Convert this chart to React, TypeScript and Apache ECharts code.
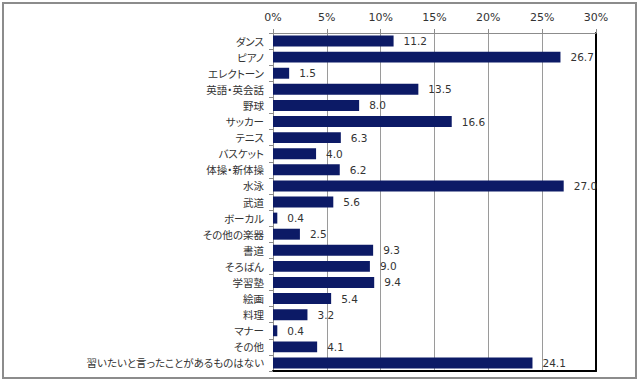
import React, { useEffect, useRef } from "react";
import * as echarts from "echarts";

const categories = [
  "ダンス", "ピアノ", "エレクトーン", "英語・英会話", "野球", "サッカー", "テニス",
  "バスケット", "体操・新体操", "水泳", "武道", "ボーカル", "その他の楽器", "書道",
  "そろばん", "学習塾", "絵画", "料理", "マナー", "その他", "習いたいと言ったことがあるものはない",
];
const values = [
  11.2, 26.7, 1.5, 13.5, 8.0, 16.6, 6.3, 4.0, 6.2, 27.0, 5.6, 0.4, 2.5, 9.3,
  9.0, 9.4, 5.4, 3.2, 0.4, 4.1, 24.1,
];
const xTicks = [0, 5, 10, 15, 20, 25, 30];

const FONT = "'Noto Sans CJK JP', 'Noto Sans', sans-serif";
const NUM_FONT = "'DejaVu Sans', Verdana, sans-serif";

export default function App() {
  const ref = useRef<HTMLDivElement>(null);
  useEffect(() => {
    document.body.style.margin = "0";
    const st = document.createElement("style");
    st.textContent = "#root svg text { font-feature-settings: 'palt' 1; }";
    document.head.appendChild(st);
    const chart = echarts.init(ref.current!, null, { renderer: "svg" });
    chart.setOption({
      animation: false,
      backgroundColor: "#ffffff",
      graphic: [
        {
          type: "rect",
          shape: { x: 3, y: 3, width: 633, height: 375 },
          style: { fill: "none", stroke: "#8c8c8c", lineWidth: 2 },
          silent: true,
        },
      ],
      grid: { left: 273, right: 44, top: 33, bottom: 11, containLabel: false },
      xAxis: [
        {
          type: "value",
          position: "top",
          min: xTicks[0],
          max: xTicks[xTicks.length - 1],
          interval: 5,
          axisLine: { show: true, lineStyle: { color: "#8c8c8c", width: 1 } },
          axisTick: { show: true, inside: false, length: 4, lineStyle: { color: "#8c8c8c" } },
          splitLine: { show: true, lineStyle: { color: "#9a9a9a", width: 1 } },
          axisLabel: {
            formatter: "{value}%",
            color: "#333333",
            fontSize: 11,
            fontFamily: NUM_FONT,
            margin: 10,
          },
        },
        {
          type: "value",
          position: "bottom",
          min: 0,
          max: 30,
          interval: 5,
          axisLine: { show: true, onZero: false, lineStyle: { color: "#000000", width: 2 } },
          axisTick: { show: false },
          axisLabel: { show: false },
          splitLine: { show: false },
        },
      ],
      yAxis: [
        {
          type: "category",
          data: categories,
          inverse: true,
          axisLine: { show: true, lineStyle: { color: "#8c8c8c", width: 1 } },
          axisTick: { show: true, inside: false, length: 4, lineStyle: { color: "#8c8c8c" } },
          axisLabel: {
            color: "#333333",
            fontSize: 10.5,
            fontFamily: FONT,
            margin: 9,
          },
        },
        {
          type: "category",
          data: categories,
          inverse: true,
          position: "right",
          axisLine: { show: true, onZero: false, lineStyle: { color: "#000000", width: 2 } },
          axisTick: { show: false },
          axisLabel: { show: false },
        },
      ],
      series: [
        {
          type: "bar",
          data: values,
          xAxisIndex: 0,
          yAxisIndex: 0,
          barCategoryGap: "32%",
          itemStyle: { color: "#0c1a66" },
          label: {
            show: true,
            position: "right",
            distance: 10,
            formatter: (p: any) => Number(p.value).toFixed(1),
            color: "#333333",
            fontSize: 10.5,
            fontFamily: NUM_FONT,
          },
        },
      ],
    });
    return () => {
      chart.dispose();
      st.remove();
    };
  }, []);
  return (
    <div
      ref={ref}
      style={{ position: "fixed", left: 0, top: 0, width: 640, height: 382 }}
    />
  );
}
